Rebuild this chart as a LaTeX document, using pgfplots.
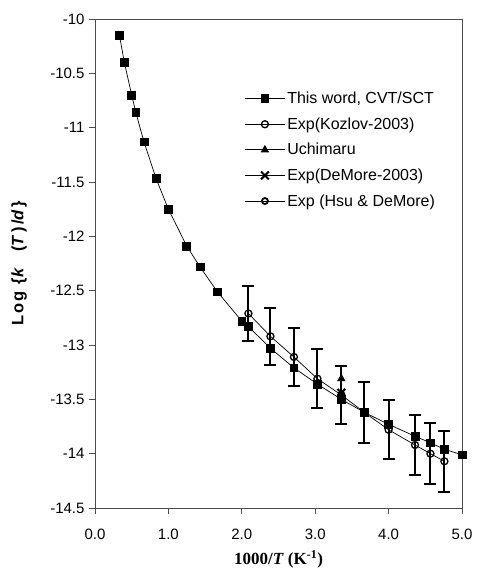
\documentclass[border=0pt]{standalone}
\usepackage{fontspec}
\setmainfont{Liberation Sans}
\newfontfamily\timesfont{Liberation Serif}
\newfontfamily\ylabfont[LetterSpace=14]{Liberation Sans}
\usepackage{pgfplots}
\pgfplotsset{compat=1.18}
\begin{document}
\begin{tikzpicture}
\path[use as bounding box] (-95pt,-65pt) rectangle (383pt,508pt);
\begin{axis}[
  at={(0pt,0pt)}, anchor=south west,
  scale only axis, width=367pt, height=489pt,
  xmin=0, xmax=5, ymin=-14.5, ymax=-10,
  axis line style={black!70, line width=0.9pt},
  xtick={0,1,2,3,4,5},
  xticklabels={0.0,1.0,2.0,3.0,4.0,5.0},
  ytick={-14.5,-14,-13.5,-13,-12.5,-12,-11.5,-11,-10.5,-10},
  yticklabels={-14.5,-14,-13.5,-13,-12.5,-12,-11.5,-11,-10.5,-10},
  tick align=outside, tick pos=left,
  major tick length=6pt,
  tick style={black!70, line width=0.9pt},
  tick label style={font=\fontsize{15}{18}\selectfont},
  xticklabel style={yshift=-11pt},
  yticklabel style={xshift=-1pt},
  xlabel={\timesfont\bfseries\fontsize{17}{20}\selectfont 1000/\textit{T} (K\textsuperscript{-1})},
  ylabel={\ylabfont\bfseries\fontsize{16.5}{19}\selectfont Log\ \{\textit{k}\ \ (\textit{T})/\textit{d}\}},
  xlabel style={at={(axis description cs:0.5,0)}, anchor=north, yshift=-39pt},
  ylabel style={at={(axis description cs:0,0.5)}, anchor=south, inner sep=0pt, yshift=68pt},
  legend cell align=left,
  legend style={draw=none, fill=none, at={(0.407,0.855)}, anchor=north west,
    font=\fontsize{16}{19}\selectfont, row sep=8.5pt, inner sep=0pt},
  legend image code/.code={
    \draw[#1, mark repeat=2, mark phase=2] plot coordinates {(0pt,0pt) (20pt,0pt) (40pt,0pt)};
  },
]
% This work, CVT/SCT
\addplot[black, line width=0.7pt, mark=square*, mark size=3.9pt, mark options={solid, fill=black}]
coordinates {
(0.333,-10.15) (0.40,-10.40) (0.50,-10.70) (0.556,-10.86) (0.667,-11.13)
(0.833,-11.47) (1.00,-11.75) (1.25,-12.09) (1.43,-12.28) (1.667,-12.51)
(2.00,-12.78) (2.09,-12.83) (2.39,-13.03) (2.71,-13.21) (3.03,-13.36)
(3.356,-13.50) (3.67,-13.62) (4.00,-13.73) (4.36,-13.84) (4.57,-13.90)
(4.76,-13.96) (5.00,-14.01)
};
\addlegendentry{This word, CVT/SCT}
% Exp Kozlov-2003 with error bars
\addplot[black, line width=0.7pt, mark=o, mark size=3.5pt, mark options={solid, fill=white, line width=1.3pt},
  error bars/.cd, y dir=both, y explicit,
  error bar style={line width=2pt, black},
  error mark options={rotate=90, mark size=6pt, line width=2pt, black}]
coordinates {
(2.09,-12.71) +- (0,0.25)
(2.39,-12.92) +- (0,0.26)
(2.71,-13.11) +- (0,0.27)
(3.03,-13.31) +- (0,0.27)
(3.356,-13.46) +- (0,0.27)
(3.67,-13.62) +- (0,0.28)
(4.00,-13.78) +- (0,0.27)
(4.36,-13.92) +- (0,0.28)
(4.57,-14.00) +- (0,0.28)
(4.76,-14.07) +- (0,0.28)
};
\addlegendentry{Exp(Kozlov-2003)}
% Uchimaru
\addplot[black, line width=0.7pt, mark=triangle*, mark size=4.2pt, mark options={solid, fill=black}]
coordinates {(3.356,-13.31)};
\addlegendentry{Uchimaru}
% DeMore-2003
\addplot[black, line width=0.7pt, mark=x, mark size=5.5pt, mark options={solid, line width=2pt}]
coordinates {(3.356,-13.44)};
\addlegendentry{Exp(DeMore-2003)}
% Hsu & DeMore
\addplot[black, line width=0.7pt, mark=o, mark size=3pt, mark options={solid, fill=white, line width=1.8pt}]
coordinates {(3.356,-13.46)};
\addlegendentry{Exp (Hsu \& DeMore)}
\end{axis}
\end{tikzpicture}
\end{document}
